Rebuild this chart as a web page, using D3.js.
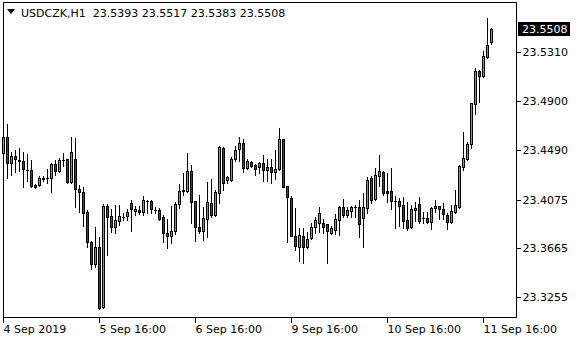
<!DOCTYPE html>
<html>
<head>
<meta charset="utf-8">
<script src="https://cdn.jsdelivr.net/npm/d3@7"></script>
<style>
  html, body { margin: 0; padding: 0; background: #fff; }
  svg { display: block; }
  text { font-family: "DejaVu Sans", sans-serif; font-size: 11px; fill: #000; }
</style>
</head>
<body>
<div id="chart"></div>
<script>
// USDCZK H1 candles, 4 Sep 16:00 .. 11 Sep 18:00
const symbol = 'USDCZK,H1';
const open = [
  23.4465,23.4600,23.4381,23.4440,23.4407,23.4398,23.4323,23.4323,23.4197,23.4197,
  23.4247,23.4252,23.4256,23.4373,23.4314,23.4405,23.4415,23.4222,23.4415,23.4163,
  23.4138,23.3970,23.3719,23.3534,23.3677,23.3173,23.4021,23.3937,23.3845,23.3895,
  23.3926,23.3937,23.4046,23.3979,23.3987,23.3970,23.4061,23.4063,23.3985,23.3987,
  23.3928,23.3794,23.3769,23.3811,23.4037,23.4147,23.4147,23.4314,23.4063,23.3845,
  23.3811,23.3912,23.4046,23.3945,23.4130,23.4507,23.4239,23.4239,23.4415,23.4499,
  23.4549,23.4340,23.4390,23.4365,23.4348,23.4381,23.4323,23.4348,23.4306,23.4331,
  23.4583,23.4188,23.4088,23.3769,23.3677,23.3769,23.3677,23.3752,23.3845,23.3878,
  23.3878,23.3870,23.3794,23.3819,23.3903,23.4012,23.3945,23.3979,23.4010,23.4012,
  23.3920,23.4004,23.4256,23.4080,23.4272,23.4306,23.4147,23.4147,23.4061,23.4063,
  23.4029,23.3903,23.3845,23.3987,23.4037,23.3918,23.3920,23.3887,23.4004,23.4021,
  23.3996,23.3945,23.3887,23.3970,23.4012,23.4348,23.4415,23.4541,23.4876,23.5153,
  23.5111,23.5271,23.5393
];
const high = [
  23.4633,23.4709,23.4474,23.4491,23.4507,23.4474,23.4457,23.4407,23.4205,23.4272,
  23.4272,23.4331,23.4381,23.4407,23.4423,23.4465,23.4418,23.4600,23.4591,23.4197,
  23.4180,23.3987,23.3727,23.3845,23.3761,23.4037,23.4037,23.3996,23.4029,23.4029,
  23.3962,23.3996,23.4071,23.4021,23.4021,23.4105,23.4071,23.4071,23.4012,23.4004,
  23.3945,23.3912,23.4021,23.4054,23.4205,23.4298,23.4465,23.4365,23.4065,23.4113,
  23.4012,23.4222,23.4247,23.4155,23.4524,23.4516,23.4272,23.4432,23.4524,23.4600,
  23.4583,23.4415,23.4398,23.4373,23.4390,23.4449,23.4415,23.4415,23.4491,23.4675,
  23.4586,23.4190,23.4105,23.4004,23.3836,23.3836,23.3803,23.3878,23.3928,23.4012,
  23.3912,23.3873,23.3853,23.3954,23.4021,23.4080,23.4012,23.4021,23.4029,23.4071,
  23.4130,23.4264,23.4272,23.4340,23.4449,23.4314,23.4298,23.4340,23.4105,23.4088,
  23.4096,23.4054,23.4029,23.4054,23.4096,23.3970,23.3970,23.4012,23.4071,23.4024,
  23.4046,23.3962,23.4029,23.4155,23.4365,23.4642,23.4558,23.4888,23.5179,23.5162,
  23.5321,23.5598,23.5517
];
const low = [
  23.4432,23.4256,23.4281,23.4306,23.4314,23.4180,23.4230,23.4180,23.4172,23.4188,
  23.4230,23.4214,23.4138,23.4281,23.4310,23.4356,23.4214,23.4214,23.4012,23.3970,
  23.3853,23.3677,23.3492,23.3509,23.3157,23.3165,23.3610,23.3803,23.3794,23.3861,
  23.3903,23.3903,23.3811,23.3945,23.3954,23.3945,23.3962,23.3962,23.3962,23.3903,
  23.3719,23.3668,23.3710,23.3786,23.4004,23.4113,23.4138,23.3878,23.3727,23.3794,
  23.3736,23.3761,23.3928,23.3940,23.4046,23.4155,23.4214,23.4230,23.4398,23.4398,
  23.4306,23.4331,23.4348,23.4281,23.4298,23.4230,23.4230,23.4214,23.4247,23.4323,
  23.4176,23.3719,23.3765,23.3652,23.3559,23.3543,23.3668,23.3744,23.3794,23.3803,
  23.3794,23.3543,23.3786,23.3786,23.3778,23.3928,23.3928,23.3928,23.3928,23.3761,
  23.3677,23.3962,23.4046,23.4071,23.4188,23.4113,23.4054,23.3996,23.3836,23.3853,
  23.3836,23.3819,23.3836,23.3895,23.3878,23.3878,23.3878,23.3828,23.3970,23.3912,
  23.3912,23.3828,23.3878,23.3962,23.4004,23.4323,23.4407,23.4507,23.4793,23.4893,
  23.5103,23.5262,23.5383
];
const close = [
  23.4600,23.4381,23.4440,23.4415,23.4398,23.4331,23.4324,23.4188,23.4180,23.4256,
  23.4256,23.4258,23.4373,23.4314,23.4407,23.4409,23.4222,23.4474,23.4163,23.4138,
  23.3962,23.3719,23.3534,23.3677,23.3165,23.4021,23.3928,23.3845,23.3903,23.3937,
  23.3930,23.3970,23.3996,23.3996,23.3970,23.4071,23.4065,23.3996,23.3989,23.3912,
  23.3794,23.3769,23.3811,23.4037,23.4147,23.4155,23.4314,23.4054,23.3845,23.3811,
  23.3920,23.4054,23.3945,23.4138,23.4516,23.4214,23.4264,23.4415,23.4491,23.4549,
  23.4340,23.4398,23.4356,23.4331,23.4381,23.4323,23.4348,23.4306,23.4331,23.4583,
  23.4180,23.4096,23.3769,23.3685,23.3778,23.3677,23.3744,23.3845,23.3903,23.3962,
  23.3845,23.3811,23.3836,23.3912,23.4012,23.3945,23.3987,23.4012,23.4014,23.3870,
  23.4012,23.4239,23.4071,23.4281,23.4314,23.4130,23.4130,23.4063,23.4065,23.4021,
  23.3895,23.3836,23.3996,23.4004,23.3895,23.3922,23.3887,23.4004,23.4021,23.3996,
  23.3954,23.3887,23.3979,23.4029,23.4356,23.4423,23.4541,23.4885,23.5153,23.5111,
  23.5279,23.5371,23.5508
];
const xTickBars = [0, 24, 48, 72, 96, 120];
const xTickLabels = ['4 Sep 2019', '5 Sep 16:00', '6 Sep 16:00', '9 Sep 16:00', '10 Sep 16:00', '11 Sep 16:00'];
const yTicks = [23.5310, 23.4900, 23.4490, 23.4075, 23.3665, 23.3255];

const width = 580, height = 340;
const frame = { left: 3, top: 2, right: 516, bottom: 317 };
const barStep = 4;
const bullColor = '#32cd32', bearColor = '#e00000';

const svg = d3.select('#chart').append('svg')
  .attr('width', width).attr('height', height)
  .attr('viewBox', [0, 0, width, height])
  .attr('shape-rendering', 'crispEdges');

const n = close.length;
const x = d3.scaleLinear()
  .domain([0, n - 1])
  .range([frame.left, frame.left + barStep * (n - 1)]);
const y = d3.scaleLinear()
  .domain([yTicks[yTicks.length - 1], yTicks[0]])
  .range([297.3, 52.3]);

// frame
svg.append('rect')
  .attr('x', frame.left + 0.5).attr('y', frame.top + 0.5)
  .attr('width', frame.right - frame.left).attr('height', frame.bottom - frame.top)
  .attr('fill', 'none').attr('stroke', '#000');

// candles ==========================================================
const candles = svg.append('g').selectAll('g')
  .data(d3.range(n)).join('g');

candles.each(function(i) {
  const g = d3.select(this);
  const cx = Math.round(x(i));
  const yh = Math.round(y(high[i])), yl = Math.round(y(low[i]));
  const yo = Math.round(y(open[i])), yc = Math.round(y(close[i]));
  const top = Math.min(yo, yc), bot = Math.max(yo, yc);
  g.append('rect').attr('x', cx).attr('y', yh)
    .attr('width', 1).attr('height', yl - yh + 1).attr('fill', '#000');
  g.append('rect').attr('x', cx - 1).attr('y', top)
    .attr('width', 3).attr('height', bot - top + 1).attr('fill', '#000');
  if (bot - top >= 2)
    g.append('rect').attr('x', cx).attr('y', top + 1)
      .attr('width', 1).attr('height', bot - top - 1)
      .attr('fill', close[i] >= open[i] ? bullColor : bearColor);
});

// axes =============================================================
const ay = svg.append('g')
  .attr('transform', `translate(${frame.right + 0.5},0)`)
  .call(d3.axisRight(y).tickValues(yTicks).tickFormat(d3.format('.4f'))
    .tickSize(4).tickPadding(2));
ay.select('.domain').remove();
ay.selectAll('text').attr('font-size', null).attr('font-family', null);

const ax = svg.append('g')
  .attr('transform', `translate(0,${frame.bottom + 0.5})`)
  .call(d3.axisBottom(x).tickValues(xTickBars)
    .tickFormat((d, k) => xTickLabels[k]).tickSize(5).tickPadding(3));
ax.select('.domain').remove();
ax.attr('text-anchor', 'start');
ax.selectAll('text').attr('x', 0).attr('font-size', null).attr('font-family', null);

// last price marker
const last = close[n - 1];
const ly = Math.round(y(last));
svg.append('rect')
  .attr('x', frame.right + 2).attr('y', ly - 7)
  .attr('width', 52).attr('height', 14).attr('fill', '#000');
svg.append('text')
  .attr('x', frame.right + 6).attr('y', ly).attr('dy', '0.36em')
  .style('fill', '#fff').text(d3.format('.4f')(last));

// header
svg.append('path')
  .attr('d', 'M7,9 L15,9 L11,14 Z').attr('fill', '#000')
  .attr('shape-rendering', 'auto');
svg.append('text').attr('x', 21).attr('y', 17)
  .attr('xml:space', 'preserve')
  .text(`${symbol}  ${[open, high, low, close].map(a => a[n - 1].toFixed(4)).join(' ')}`);
</script>
</body>
</html>
